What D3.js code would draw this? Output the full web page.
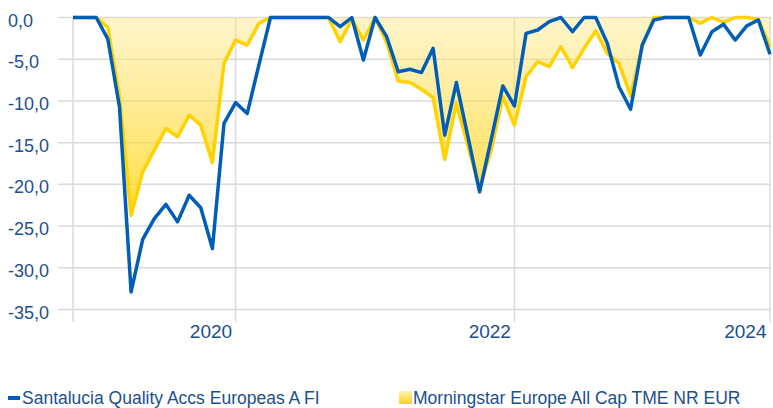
<!DOCTYPE html>
<html>
<head>
<meta charset="utf-8">
<script src="https://cdn.jsdelivr.net/npm/d3@7"></script>
<style>
  html, body { margin: 0; padding: 0; background: #fff; }
  svg { display: block; }
  text { font-family: "Liberation Sans", Arial, sans-serif; fill: #1c4f8e; }
</style>
</head>
<body>
<svg id="chart" width="773" height="408"></svg>
<script>
// ---- data ----
const months = [
  "2018-11","2018-12",
  "2019-01","2019-02","2019-03","2019-04","2019-05","2019-06","2019-07","2019-08","2019-09","2019-10","2019-11","2019-12",
  "2020-01","2020-02","2020-03","2020-04","2020-05","2020-06","2020-07","2020-08","2020-09","2020-10","2020-11","2020-12",
  "2021-01","2021-02","2021-03","2021-04","2021-05","2021-06","2021-07","2021-08","2021-09","2021-10","2021-11","2021-12",
  "2022-01","2022-02","2022-03","2022-04","2022-05","2022-06","2022-07","2022-08","2022-09","2022-10","2022-11","2022-12",
  "2023-01","2023-02","2023-03","2023-04","2023-05","2023-06","2023-07","2023-08","2023-09","2023-10","2023-11"
];
const fundName = "Santalucia Quality Accs Europeas A FI";
const fundValues = [
  0, 0, 0, -2.6, -10.7, -32.9, -26.6, -24.1, -22.4, -24.5,
  -21.3, -22.8, -27.7, -12.7, -10.2, -11.5, -5.7, 0, 0, 0,
  0, 0, 0, -1.1, 0, -5.1, 0, -2.3, -6.5, -6.2,
  -6.6, -3.7, -14.1, -7.8, -14.3, -20.9, -14.6, -8.2, -10.6, -1.9,
  -1.5, -0.5, 0, -1.7, 0, 0, -3.1, -8.3, -11.0, -3.3,
  -0.3, 0, 0, 0, -4.5, -1.7, -0.8, -2.7, -1.0, -0.3,
  -4.4
];
const benchName = "Morningstar Europe All Cap TME NR EUR";
const benchValues = [
  0, 0, 0, -1.2, -9.5, -23.7, -18.5, -15.9, -13.3, -14.3,
  -11.7, -12.9, -17.4, -5.5, -2.7, -3.3, -0.7, 0, 0, 0,
  0, 0, 0, -2.9, -0.2, -2.7, 0, -3.0, -7.6, -7.8,
  -8.6, -9.6, -17.0, -10.3, -15.4, -20.5, -15.9, -9.5, -12.9, -7.1,
  -5.3, -5.9, -3.5, -6.0, -3.7, -1.6, -4.3, -5.5, -9.4, -3.5,
  0, 0, 0, 0, -0.7, 0, -0.6, 0, 0, -0.2,
  -3.5
];
const yTicks = [0, -5, -10, -15, -20, -25, -30, -35];
const xTickMonths = ["2020-01", "2022-01", "2023-11"];
const xTickLabels = ["2020", "2022", "2024"];

// ---- layout ----
const svg = d3.select("#chart");
const plot = { left: 73, right: 770, top: 17.5, bottom: 309.5 };
const blue = "#005eb8", yellow = "#ffd200", grid = "#dadada";

const x = d3.scalePoint().domain(months).range([plot.left, plot.right]);
const y = d3.scaleLinear().domain([-35, 0]).range([plot.bottom, plot.top]);

// gradient for area
const defs = svg.append("defs");
const grad = defs.append("linearGradient").attr("id", "areaGrad")
  .attr("gradientUnits", "userSpaceOnUse")
  .attr("x1", 0).attr("x2", 0).attr("y1", y(0)).attr("y2", y(-24));
grad.append("stop").attr("offset", 0).attr("stop-color", "#ffe680").attr("stop-opacity", 0.42);
grad.append("stop").attr("offset", 1).attr("stop-color", "#ffd200").attr("stop-opacity", 0.78);
const lgrad = defs.append("linearGradient").attr("id", "legGrad")
  .attr("x1", 0).attr("x2", 0).attr("y1", 0).attr("y2", 1);
lgrad.append("stop").attr("offset", 0).attr("stop-color", "#fff3b0");
lgrad.append("stop").attr("offset", 1).attr("stop-color", "#ffd21a");

// horizontal grid
const yAxis = d3.axisLeft(y).tickValues(yTicks).tickSize(0).tickFormat("");
svg.append("g").selectAll("line").data(yTicks).join("line")
  .attr("x1", 58).attr("x2", plot.right + 1)
  .attr("y1", d => y(d)).attr("y2", d => y(d))
  .attr("stroke", grid).attr("stroke-width", 1.5);

// y labels (left aligned)
svg.append("g").selectAll("text").data(yTicks).join("text")
  .attr("x", 8).attr("y", d => y(d) + 9)
  .attr("font-size", 18)
  .text(d => d3.format(".1f")(d).replace(".", ",").replace("−", "-"));

// vertical grid: left border + ticks
const vLines = [months[0]].concat(xTickMonths);
svg.append("g").selectAll("line").data(vLines).join("line")
  .attr("x1", d => x(d)).attr("x2", d => x(d))
  .attr("y1", plot.top).attr("y2", 322)
  .attr("stroke", grid).attr("stroke-width", 1.5);

// x axis labels via d3 axis
const xAxis = d3.axisBottom(x).tickValues(xTickMonths).tickSize(0)
  .tickFormat(d => xTickLabels[xTickMonths.indexOf(d)]);
const gx = svg.append("g").attr("transform", `translate(0,${plot.bottom})`).call(xAxis);
gx.select(".domain").remove();
gx.selectAll("text")
  .attr("text-anchor", "end")
  .attr("dx", -4)
  .attr("y", 0).attr("dy", 0)
  .attr("transform", "translate(0,28)")
  .attr("font-size", 19)
  .attr("font-family", "Liberation Sans, Arial, sans-serif")
  .attr("fill", "#1c4f8e");

// area (benchmark)
const area = d3.area()
  .x((d, i) => x(months[i]))
  .y0(y(0))
  .y1(d => y(d));
svg.append("path").datum(benchValues)
  .attr("d", area).attr("fill", "url(#areaGrad)");

// lines
const line = d3.line().x((d, i) => x(months[i])).y(d => y(d));
svg.append("path").datum(benchValues)
  .attr("d", line).attr("fill", "none")
  .attr("stroke", yellow).attr("stroke-width", 3.5)
  .attr("stroke-linejoin", "round");
svg.append("path").datum(fundValues)
  .attr("d", line).attr("fill", "none")
  .attr("stroke", blue).attr("stroke-width", 3.5)
  .attr("stroke-linejoin", "round");

// legend
const leg = svg.append("g");
leg.append("rect").attr("x", 8).attr("y", 396).attr("width", 12).attr("height", 4).attr("fill", blue);
leg.append("text").attr("x", 22).attr("y", 404).attr("font-size", 17.5).text(fundName);
leg.append("rect").attr("x", 399).attr("y", 391).attr("width", 13).attr("height", 13).attr("fill", "url(#legGrad)");
leg.append("text").attr("x", 413).attr("y", 404).attr("font-size", 17.5).text(benchName);
</script>
</body>
</html>
